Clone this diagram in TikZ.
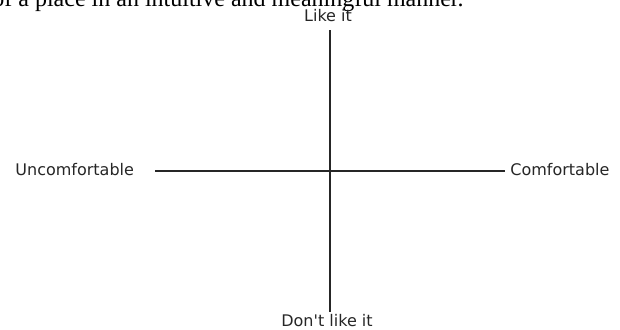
\documentclass[tikz,border=0pt]{standalone}
\usepackage{fontspec}
\setmainfont{Liberation Serif}
\newfontfamily\axisfont{DejaVu Sans}
\tikzset{
    axislabel/.style={inner sep=0pt, font=\axisfont\fontsize{8pt}{9.6pt}\selectfont, text=black!85},
    axisline/.style={line width=0.75pt, black!85}
}
\begin{document}
\begin{tikzpicture}[x=0.5pt, y=-0.5pt]
        % ==== FRAME ====
        \useasboundingbox (0,0) rectangle (620,329);
        \clip (0,0) rectangle (620,329);

        % ==== DEFINITIONS ====
        \def\midX{330} % vertical axis
        \def\midY{171} % horizontal axis

        % ==== TEXT ABOVE (cut off) ====
        \node[anchor=base west, inner sep=0pt, font=\fontsize{12pt}{14pt}\selectfont] (caption) at (-8,6.5)
            {of a place in an intuitive and meaningful manner.};

        % ==== AXIS ENDS ====
        \coordinate (top) at (\midX,30);
        \coordinate (bottom) at (\midX,312);
        \coordinate (left) at (155,\midY);
        \coordinate (right) at (505,\midY);

        % ==== AXES ====
        \draw[axisline] (top) -- (bottom);
        \draw[axisline] (left) -- (right);

        % ==== LABELS ====
        \node[axislabel, anchor=base] (like) at (328,21.7) {Like it};
        \node[axislabel, anchor=base] (dislike) at (327,326) {Don't like it};
        \node[axislabel, anchor=base west] (uncomf) at (15,175) {Uncomfortable};
        \node[axislabel, anchor=base west] (comf) at (510,175) {Comfortable};
    \end{tikzpicture}
\end{document}
